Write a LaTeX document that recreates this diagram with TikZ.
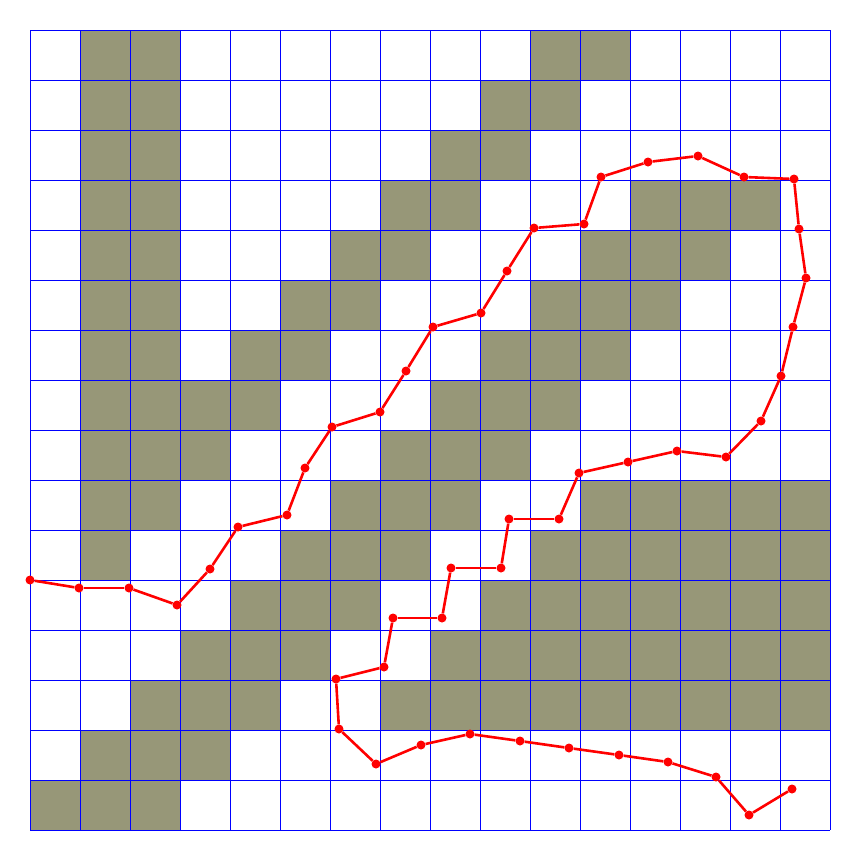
\documentclass[tikz,border=0pt]{standalone}
\definecolor{cellfill}{RGB}{151,151,120}
\begin{document}
\begin{tikzpicture}[x=1pt,y=-1pt,
  dot/.style={circle,fill=red,inner sep=0pt,minimum size=9pt},
  link/.style={red,line width=2.6pt},
  gridline/.style={blue,line width=1pt},
  cell/.style={fill=cellfill}]
\useasboundingbox (0,0) rectangle (860,860);
\fill[white] (0,0) rectangle (860,860);
\foreach \r/\cs in {0/{1,2,10,11},1/{1,2,9,10},2/{1,2,8,9},3/{1,2,7,8,12,13,14},
  4/{1,2,6,7,11,12,13},5/{1,2,5,6,10,11,12},6/{1,2,4,5,9,10,11},7/{1,2,3,4,8,9,10},
  8/{1,2,3,7,8,9},9/{1,2,6,7,8,11,12,13,14,15},10/{1,5,6,7,10,11,12,13,14,15},
  11/{4,5,6,9,10,11,12,13,14,15},12/{3,4,5,8,9,10,11,12,13,14,15},
  13/{2,3,4,7,8,9,10,11,12,13,14,15},14/{1,2,3},15/{0,1,2}}
  \foreach \c in \cs \path[cell] (30+50*\c,30+50*\r) rectangle +(50,50);
\foreach \i in {0,...,16} {
  \draw[gridline] (30+50*\i,30) -- (30+50*\i,830);
  \draw[gridline] (30,30+50*\i) -- (830,30+50*\i);
}
\foreach [count=\k] \px/\py in {30/580,79/588,129/588,177/605,210/569,238/527,287/515,
  305/468,332/427,380/412,406/371,433/327,481/313,507/271,534/228,584/224,601/177,
  648/162,698/156,744/177,794/179,799/229,806/278,793/327,781/376,761/421,726/457,
  677/451,628/462,579/473,559/519,509/519,501/568,451/568,442/618,393/618,384/667,
  336/679,339/729,376/764,421/745,470/734,520/741,569/748,619/755,668/762,716/777,
  749/815,792/789}
  \node[dot] (p\k) at (\px,\py) {};
\foreach \k [evaluate=\k as \j using int(\k+1)] in {1,...,48}
  \draw[link] (p\k) -- (p\j);
\end{tikzpicture}
\end{document}
